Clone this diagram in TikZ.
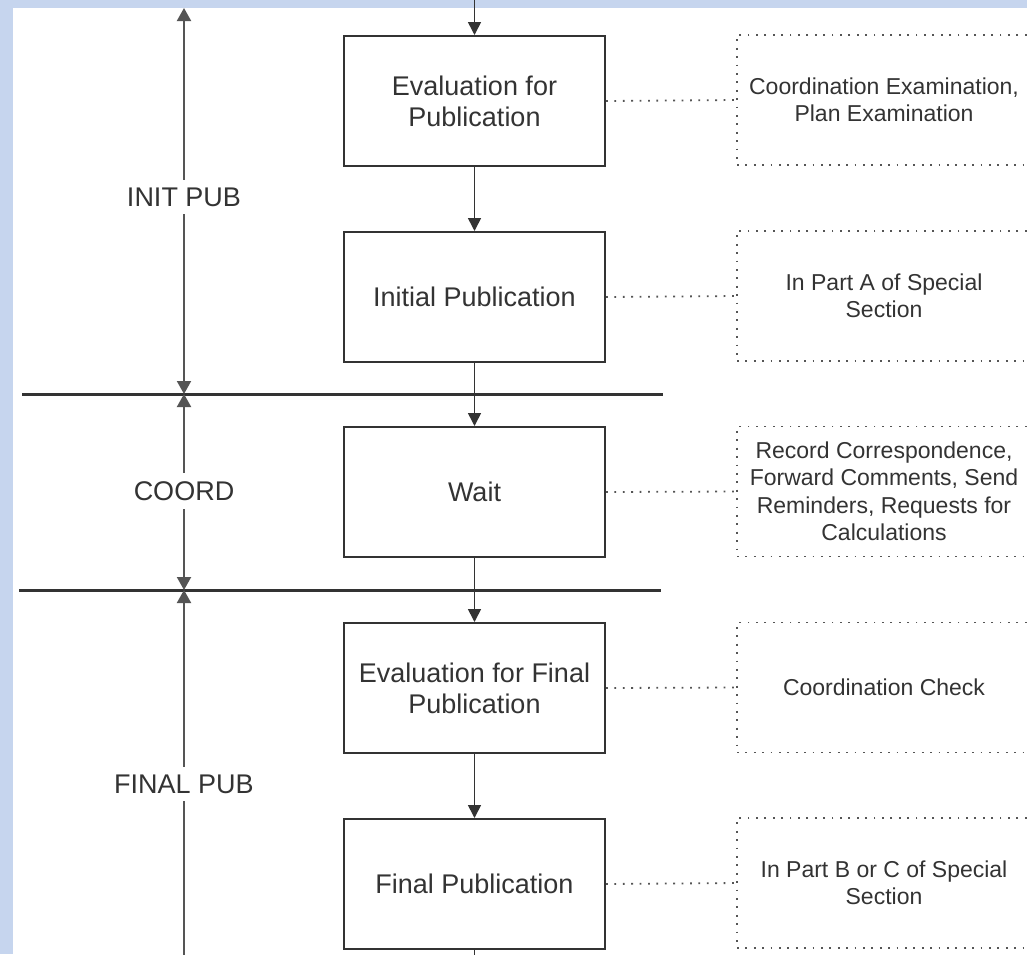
\documentclass[tikz,border=0pt]{standalone}
\usepackage{fontspec}
\setmainfont{Liberation Sans}
\usetikzlibrary{arrows.meta}
\definecolor{bgblue}{HTML}{C6D5EE}
\definecolor{ink}{HTML}{333333}
\definecolor{axisgray}{HTML}{555555}
\tikzset{
  stepbox/.style={draw=ink, line width=2pt, minimum width=261pt, minimum height=130pt, inner sep=0pt, align=center, text=ink, font=\fontsize{27}{31}\selectfont},
  notebox/.style={draw=axisgray, line width=1.8pt, dash pattern=on 1.8pt off 6.6pt, minimum width=294pt, minimum height=130pt, inner sep=0pt, align=center, text=ink, font=\fontsize{23}{27.5}\selectfont},
  dotlink/.style={draw=axisgray, line width=1.8pt, dash pattern=on 1.8pt off 6.6pt},
  flow/.style={draw=ink, line width=1.6pt, -{Triangle[length=13pt,width=13pt]}},
  axis/.style={draw=axisgray, line width=2pt},
  tip/.style={-{Triangle[length=13pt,width=14pt]}},
  sep/.style={draw=ink, line width=3pt},
  phase/.style={fill=white, inner sep=8pt, text=ink, font=\fontsize{27}{31}\selectfont}
}
\begin{document}
\begin{tikzpicture}[x=1pt,y=-1pt]
\useasboundingbox (0,0) rectangle (1027,954);
\clip (0,0) rectangle (1027,954);
\fill[bgblue] (0,0) rectangle (1027,954);
\fill[white] (13,8) rectangle (1027,954);

% main boxes
\node[stepbox] (b1) at (474.5,101) {Evaluation for\\Publication};
\node[stepbox] (b2) at (474.5,297) {Initial Publication};
\node[stepbox] (b3) at (474.5,492) {Wait};
\node[stepbox] (b4) at (474.5,688) {Evaluation for Final\\Publication};
\node[stepbox] (b5) at (474.5,884) {Final Publication};

% note boxes
\node[notebox] (n1) at (884,100) {Coordination Examination,\\Plan Examination};
\node[notebox] (n2) at (884,296) {In Part A of Special\\Section};
\node[notebox] (n3) at (884,491.5) {Record Correspondence,\\Forward Comments, Send\\Reminders, Requests for\\Calculations};
\node[notebox] (n4) at (884,687.5) {Coordination Check};
\node[notebox] (n5) at (884,883) {In Part B or C of Special\\Section};

% separators
\coordinate (s1a) at (22,394);
\coordinate (s1b) at (663,394);
\coordinate (s2a) at (19,590);
\coordinate (s2b) at (661,590);
\draw[sep] (s1a) -- (s1b);
\draw[sep] (s2a) -- (s2b);

% flow arrows
\coordinate (top) at (474.5,0);
\coordinate (bot) at (474.5,960);
\draw[flow] (top) -- (b1.north);
\draw[flow] (b1.south) -- (b2.north);
\draw[flow] (b2.south) -- (b3.north);
\draw[flow] (b3.south) -- (b4.north);
\draw[flow] (b4.south) -- (b5.north);
\draw[ink, line width=1.6pt] (b5.south) -- (bot);

% dotted links
\foreach \i in {1,...,5} {
  \draw[dotlink] (b\i.east) -- (n\i.west);
}

% left axis
\coordinate (a0) at (184,8);
\coordinate (a1) at (184,394);
\coordinate (a2) at (184,590);
\coordinate (a3) at (184,960);
\draw[axis, tip] (184,197) -- (a0);
\draw[axis, tip] (184,197) -- (a1);
\draw[axis, tip] (184,491) -- (a1);
\draw[axis, tip] (184,491) -- (a2);
\draw[axis, tip] (184,784) -- (a2);
\draw[axis] (184,784) -- (a3);
\node[phase] (p1) at (184,197) {INIT PUB};
\node[phase] (p2) at (184,491) {COORD};
\node[phase] (p3) at (184,784) {FINAL PUB};
\end{tikzpicture}
\end{document}
